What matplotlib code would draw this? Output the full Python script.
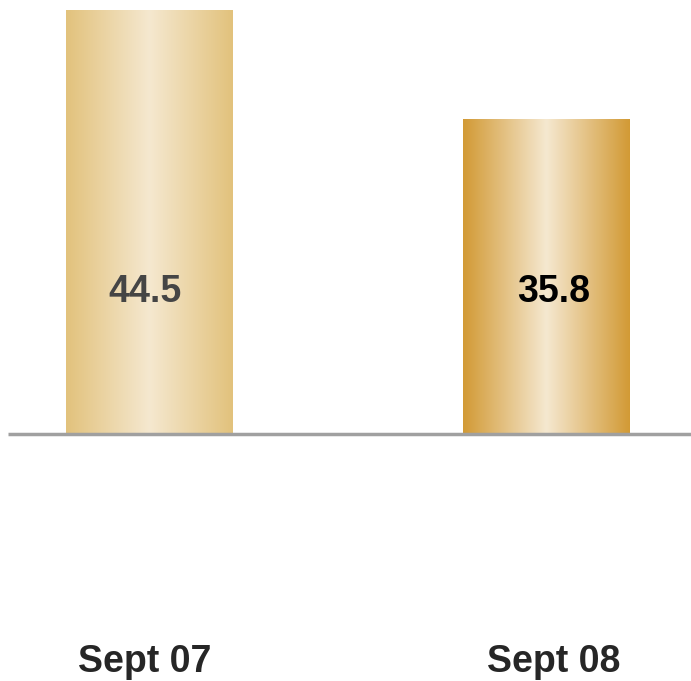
import numpy as np
import matplotlib.pyplot as plt
from matplotlib.colors import LinearSegmentedColormap

plt.rcParams['font.family'] = ['Liberation Sans', 'DejaVu Sans']

categories = ['Sept 07', 'Sept 08']
values = [44.5, 35.8]
edge_colors = ['#e2c27c', '#d29a35']
label_colors = ['#454545', '#000000']
label_shift = [-0.011, 0.018]   # text sits slightly off the bar centres

base = 10.66      # value where the axis line sits
label_y = 22.0    # height of the value labels
bar_w = 0.418


def gradient_bar(ax, x, top, edge):
    cmap = LinearSegmentedColormap.from_list('g', [edge, '#f5e8d0', edge])
    grad = np.linspace(0, 1, 256).reshape(1, -1)
    bar = ax.bar(x, top - base, bottom=base, width=bar_w, color='none', zorder=2)[0]
    im = ax.imshow(grad, cmap=cmap, aspect='auto', zorder=1,
                   extent=[x - bar_w / 2, x + bar_w / 2, base, top])
    im.set_clip_path(bar)


fig = plt.figure(figsize=(6.91, 6.81), dpi=100)
ax = fig.add_axes([0, 0, 1, 1])

for i, (v, c) in enumerate(zip(values, edge_colors)):
    gradient_bar(ax, i, v, c)
    tx = i + label_shift[i]
    ax.text(tx, label_y, f'{v}', ha='center', va='center', fontsize=27,
            fontweight='bold', color=label_colors[i], zorder=3)
    ax.text(tx, -7.5, categories[i], ha='center', va='center', fontsize=27,
            fontweight='bold', color='#262626', zorder=3)

ax.plot([-0.355, 1.364], [base, base], color='#a0a0a0', lw=2.5, zorder=4,
        solid_capstyle='butt')

ax.set_xlim(-0.375, 1.364)
ax.set_ylim(-9.05, 45.3)
ax.axis('off')

fig.savefig('out.png', dpi=100)
